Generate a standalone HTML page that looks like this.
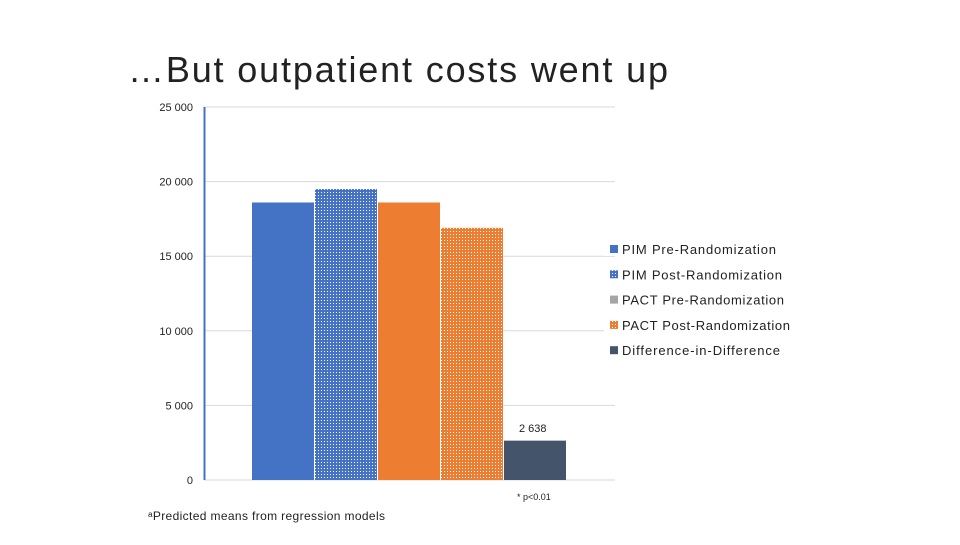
<!DOCTYPE html>
<html><head><meta charset="utf-8"><style>
body{margin:0;width:960px;height:540px;background:#fff;overflow:hidden;font-family:"Liberation Sans",sans-serif}
</style></head><body>
<svg width="960" height="540">
<defs>
<pattern id="dotB" width="3" height="3" patternUnits="userSpaceOnUse"><rect width="3" height="3" fill="#4472C4"/><rect width="1" height="1" fill="#fff"/></pattern>
<pattern id="dotO" width="3" height="3" patternUnits="userSpaceOnUse"><rect width="3" height="3" fill="#ED7D31"/><rect width="1" height="1" fill="#fff"/></pattern>
</defs>
<text x="128" y="82" font-size="36" fill="#222" textLength="540" lengthAdjust="spacing">…But outpatient costs went up</text>
<g id="grid"></g>
<g id="bars"></g>
<line x1="204.5" y1="107" x2="204.5" y2="480" stroke="#4472C4" stroke-width="2"/>
<text x="519" y="432" font-size="11" fill="#222">2 638</text>
<text x="517" y="500" font-size="9" fill="#222">* p&lt;0.01</text>
<text x="148" y="520" font-size="12" fill="#222" textLength="237">ᵃPredicted means from regression models</text>
<g id="legend"></g>
</svg>
<script>
const ticks=[0,5000,10000,15000,20000,25000];
const tickLabels=["0","5 000","10 000","15 000","20 000","25 000"];
const categories=["PIM Pre-Randomization","PIM Post-Randomization","PACT Pre-Randomization","PACT Post-Randomization","Difference-in-Difference"];
const values=[18600,19500,18600,16900,2638];
const fills=["#4472C4","url(#dotB)","#ED7D31","url(#dotO)","#44546A"];
const legendFills=["#4472C4","url(#dotB)","#A5A5A5","url(#dotO)","#44546A"];
const legendLens=[154,160,162,168,158];
const NS="http://www.w3.org/2000/svg";
const y=v=>480-v*(373/25000);
const x=i=>252+i*63;
const g=document.getElementById('grid'),b=document.getElementById('bars'),l=document.getElementById('legend');
function mk(t,a,p){const e=document.createElementNS(NS,t);for(const k in a)e.setAttribute(k,a[k]);p.appendChild(e);return e;}
ticks.forEach((t,i)=>{
 const ln=mk('line',{x1:204,x2:615,y1:y(t),y2:y(t),stroke:'#d9d9d9','stroke-width':1},g);
 
 
 const tx=mk('text',{x:193,y:y(t)+4,'font-size':11,fill:'#222','text-anchor':'end'},g);
 tx.textContent=tickLabels[i];
 
 
});
values.forEach((v,i)=>{
 const r=mk('rect',{x:x(i),y:y(v),width:62,height:480-y(v),fill:fills[i]},b);
 
 
});
categories.forEach((c,i)=>{
 const yy=249+i*25.3;
 mk('rect',{x:604,y:yy-5,width:12,height:12,fill:'#fff'},l);
 const s=mk('rect',{x:610,y:yy-4,width:8,height:8,fill:legendFills[i]},l);
 
 
 const t=mk('text',{x:622,y:yy+5,'font-size':13,fill:'#222',textLength:legendLens[i]},l);
 t.textContent=c;
 
 
});
</script>
</body></html>
